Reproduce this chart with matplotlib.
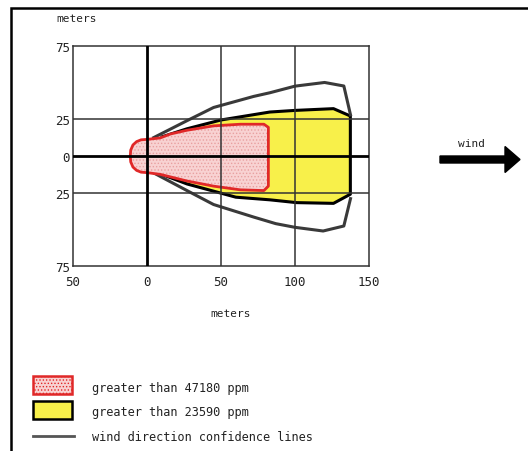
import matplotlib
matplotlib.use("Agg")
import matplotlib.pyplot as plt
from matplotlib.patches import Polygon, FancyArrow, Rectangle
from matplotlib.lines import Line2D
from matplotlib.ticker import FixedLocator, FixedFormatter

plt.rcParams['font.family'] = ['DejaVu Sans Mono']
plt.rcParams['hatch.linewidth'] = 0.6

# ---- data ----
x_ticks = [-50, 0, 50, 100, 150]
x_tick_labels = ["50", "0", "50", "100", "150"]
y_ticks = [75, 25, 0, -25, -75]
y_tick_labels = ["75", "25", "0", "25", "75"]

red_x = [-11.3, -11, -9.5, -7, -4, 0, 9, 16, 27, 45, 63, 79, 82,
         82, 79, 63, 45, 27, 9, 0, -4, -7, -9.5, -11]
red_y = [0, 4, 7.5, 9.8, 11, 11.3, 12.3, 15, 17.5, 20.5, 21.6, 21.6, 19.5,
         -20.5, -23.5, -23, -20.5, -17, -12.5, -11.3, -11, -9.8, -7.5, -4]

yel_x = [10, 27, 50, 83, 100, 126, 137.4, 137.4, 126, 101, 83, 60, 27, 10]
yel_y = [13, 18.5, 24.5, 29.9, 31, 32.2, 27.2, -26, -32.2, -31.7, -29.8, -28, -19, -12.5]

conf_up_x = [4.5, 27, 45, 72, 83, 100, 120, 133, 137.5]
conf_up_y = [12.5, 24, 33, 40.5, 43, 47.5, 50, 47.6, 28]
conf_lo_x = [4.5, 27, 45, 72, 87, 100, 119, 133, 137.5]
conf_lo_y = [-11.5, -23.5, -33, -41.5, -46, -48.5, -51, -47.6, -29]

legend_labels = ["greater than 47180 ppm", "greater than 23590 ppm",
                 "wind direction confidence lines"]

W, H = 528, 452
fig = plt.figure(figsize=(W / 100, H / 100), dpi=100)

# outer frame
fig.patches.append(Rectangle((11 / W, -0.1), 1.2, (H - 9) / H + 0.1,
                             transform=fig.transFigure, fill=False,
                             edgecolor='black', linewidth=1.8))

ax = fig.add_axes([73 / W, 1 - 267.3 / H, 296 / W, 220.6 / H])
ax.set_xlim(-50, 150)
ax.set_ylim(-75, 75)

# shapes
ax.add_patch(Polygon(list(zip(yel_x, yel_y)), closed=True, facecolor='#f8f04a',
                     edgecolor='black', linewidth=2.2, joinstyle='round', zorder=2))
ax.plot(conf_up_x, conf_up_y, color='#3a3a3a', lw=2.2, solid_joinstyle='round', zorder=3)
ax.plot(conf_lo_x, conf_lo_y, color='#3a3a3a', lw=2.2, solid_joinstyle='round', zorder=3)
red_pts = list(zip(red_x, red_y))
ax.add_patch(Polygon(red_pts, closed=True, facecolor='#f8d2d2', edgecolor='none', zorder=4))
ax.add_patch(Polygon(red_pts, closed=True, facecolor='none', edgecolor='#e8a0a0',
                     hatch='.....', linewidth=0, zorder=4.1))
ax.add_patch(Polygon(red_pts, closed=True, facecolor='none', edgecolor='#e02828',
                     linewidth=2, joinstyle='round', zorder=4.2))

# grid
for xv in [50, 100]:
    ax.axvline(xv, color='#333333', lw=1.1, zorder=5)
for yv in [25, -25]:
    ax.axhline(yv, color='#333333', lw=1.1, zorder=5)
ax.axvline(0, color='black', lw=2, zorder=5)
ax.axhline(0, color='black', lw=2, zorder=5)
for s in ax.spines.values():
    s.set_color('#333333')
    s.set_linewidth(1.1)

ax.xaxis.set_major_locator(FixedLocator(x_ticks))
ax.xaxis.set_major_formatter(FixedFormatter(x_tick_labels))
ax.yaxis.set_major_locator(FixedLocator(y_ticks))
ax.yaxis.set_major_formatter(FixedFormatter(y_tick_labels))
ax.tick_params(axis='both', length=0, labelsize=9, colors='#222222')
ax.tick_params(axis='x', pad=6)
ax.tick_params(axis='y', pad=2)

# axis texts
fig.text(77 / W, 1 - 19 / H, "meters", ha='center', va='center', fontsize=8, color='#222222')
fig.text(231 / W, 1 - 314 / H, "meters", ha='center', va='center', fontsize=8, color='#222222')

# wind arrow
fig.text(472 / W, 1 - 144 / H, "wind", ha='center', va='center', fontsize=8, color='#222222')
fig.patches.append(FancyArrow(4.40, (H - 160.5) / 100, 0.80, 0, width=0.07,
                              head_width=0.26, head_length=0.15,
                              length_includes_head=True, color='black',
                              transform=fig.dpi_scale_trans))

# legend
fig.patches.append(Rectangle((33 / W, 1 - 395 / H), 39 / W, 18 / H, transform=fig.transFigure,
                             facecolor='#f8d2d2', edgecolor='#e02828', linewidth=1.8,
                             hatch='.....'))
fig.patches.append(Rectangle((33 / W, 1 - 420 / H), 39 / W, 18 / H, transform=fig.transFigure,
                             facecolor='#f8f04a', edgecolor='black', linewidth=1.8))
fig.lines.append(Line2D([33 / W, 74 / W], [1 - 437 / H, 1 - 437 / H], transform=fig.transFigure,
                        color='#555555', linewidth=2))
for i, yy in enumerate([389, 413, 438]):
    fig.text(92 / W, 1 - yy / H, legend_labels[i], ha='left', va='center', fontsize=8.6,
             color='#222222')

fig.savefig("out.png", dpi=100)
